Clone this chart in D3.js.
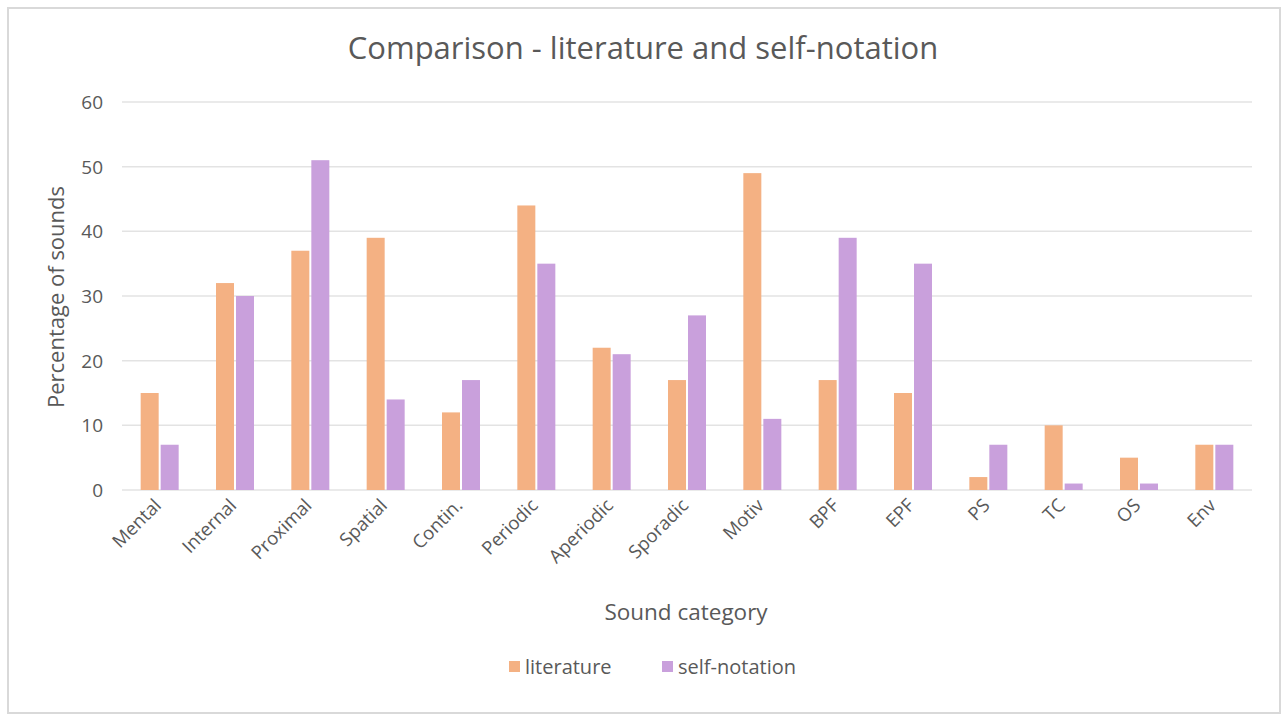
<!DOCTYPE html>
<html>
  <head>
    <meta charset="utf-8">
    <title>Comparison - literature and self-notation</title>
    <script src="https://d3js.org/d3.v7.min.js"></script>
    <style>
      body { margin: 0; background: #fff; }
      text { font-family: "Open Sans", Lato, sans-serif; fill: #595959; }
    </style>
  </head>
  <body>
    <div id="vis"></div>
    <script>
      // chart data
      const categories = ["Mental", "Internal", "Proximal", "Spatial", "Contin.", "Periodic", "Aperiodic",
                          "Sporadic", "Motiv", "BPF", "EPF", "PS", "TC", "OS", "Env"];
      const literature = [15, 32, 37, 39, 12, 44, 22, 17, 49, 17, 15, 2, 10, 5, 7];
      const selfNotation = [7, 30, 51, 14, 17, 35, 21, 27, 11, 39, 35, 7, 1, 1, 7];
      const seriesNames = ["literature", "self-notation"];
      const yTicks = [0, 10, 20, 30, 40, 50, 60];

      const width = 1282;
      const height = 714;
      const margin = {top: 102, right: 30, bottom: 224, left: 122};
      const colors = ["#F4B183", "#C9A0DC"];

      const svg = d3.select("#vis")
                    .append("svg")
                    .attr("width", width)
                    .attr("height", height);

      // outer frame
      svg.append("rect")
         .attr("x", 8).attr("y", 8)
         .attr("width", width - 10).attr("height", height - 9)
         .attr("fill", "#fff")
         .attr("stroke", "#d9d9d9")
         .attr("stroke-width", 2);

      const x = d3.scaleBand()
                  .domain(categories)
                  .range([margin.left, width - margin.right]);

      const x1 = d3.scaleBand()
                   .domain(seriesNames)
                   .range([0, 38])
                   .paddingInner(0.1);

      const y = d3.scaleLinear()
                  .domain([0, 60])
                  .range([height - margin.bottom, margin.top]);

      // gridlines
      svg.append("g")
         .selectAll("line")
         .data(yTicks)
         .enter()
         .append("line")
         .attr("x1", margin.left)
         .attr("x2", width - margin.right)
         .attr("y1", d => y(d))
         .attr("y2", d => y(d))
         .attr("stroke", "#e3e3e3")
         .attr("stroke-width", 1.5);

      // y tick labels
      svg.append("g")
         .selectAll("text")
         .data(yTicks)
         .enter()
         .append("text")
         .attr("x", 103)
         .attr("y", d => y(d))
         .attr("dy", "0.36em")
         .attr("text-anchor", "end")
         .style("font-size", "19px")
         .text(d => d);

      // bars
      const series = [literature, selfNotation];
      const group = svg.append("g")
                       .selectAll("g")
                       .data(categories)
                       .enter()
                       .append("g")
                       .attr("transform", d => "translate(" + (x(d) + x.bandwidth() / 2 - 19) + ",0)");

      group.selectAll("rect")
           .data((d, i) => seriesNames.map((s, j) => ({s: s, v: series[j][i], c: colors[j]})))
           .enter()
           .append("rect")
           .attr("x", d => x1(d.s))
           .attr("width", x1.bandwidth())
           .attr("y", d => y(d.v))
           .attr("height", d => y(0) - y(d.v))
           .attr("fill", d => d.c);

      // x labels
      svg.append("g")
         .selectAll("text")
         .data(categories)
         .enter()
         .append("text")
         .attr("transform", d => "translate(" + (x(d) + x.bandwidth() / 2 - 2) + "," + (y(0) + 12) + ") rotate(-45)")
         .attr("text-anchor", "end")
         .attr("dy", "0.35em")
         .style("font-size", "18.5px")
         .text(d => d);

      // title
      svg.append("text")
         .attr("x", 643)
         .attr("y", 59)
         .attr("text-anchor", "middle")
         .style("font-size", "31px")
         .text("Comparison - literature and self-notation");

      // axis titles
      svg.append("text")
         .attr("x", 686)
         .attr("y", 620)
         .attr("text-anchor", "middle")
         .style("font-size", "22.5px")
         .text("Sound category");

      svg.append("text")
         .attr("transform", "translate(64,297) rotate(-90)")
         .attr("text-anchor", "middle")
         .style("font-size", "22px")
         .text("Percentage of sounds");

      // legend
      const legendX = [509, 662];
      const legend = svg.append("g")
                        .selectAll("g")
                        .data(seriesNames)
                        .enter()
                        .append("g")
                        .attr("transform", (d, i) => "translate(" + legendX[i] + ",661)");

      legend.append("rect")
            .attr("width", 11).attr("height", 11)
            .attr("fill", (d, i) => colors[i]);

      legend.append("text")
            .attr("x", 16)
            .attr("y", 6)
            .attr("dy", "0.35em")
            .style("font-size", "20px")
            .text(d => d);
    </script>
  </body>
</html>
